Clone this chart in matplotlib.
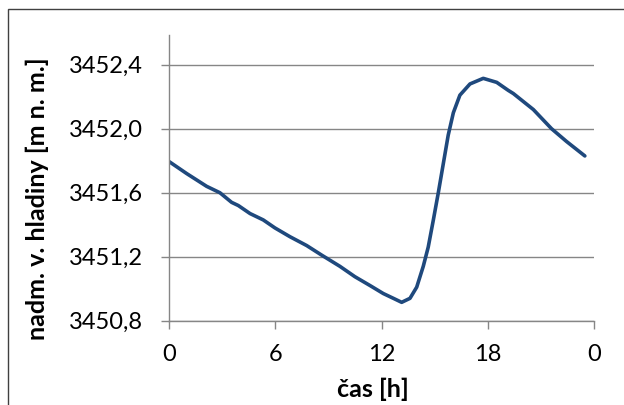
import numpy as np
import matplotlib
matplotlib.use('Agg')
import matplotlib.pyplot as plt
from matplotlib.patches import Rectangle

plt.rcParams['font.family'] = ['Lato', 'DejaVu Sans']

# water level over one day (hours, m a.s.l.)
hours = [0, 0.98, 2.11, 2.86, 3.52, 3.9, 4.56, 5.31, 5.97, 6.82, 7.76, 8.61,
         9.64, 10.49, 11.34, 12.09, 12.66, 13.13, 13.6, 13.98, 14.35, 14.63,
         14.92, 15.2, 15.48, 15.76, 16.05, 16.42, 16.99, 17.74, 18.5, 19.15,
         19.44, 20.57, 21.6, 22.45, 23.48]
level = [3451.794, 3451.72, 3451.64, 3451.60, 3451.54, 3451.52, 3451.47,
         3451.43, 3451.38, 3451.325, 3451.27, 3451.21, 3451.14, 3451.075,
         3451.02, 3450.97, 3450.94, 3450.915, 3450.94, 3451.01, 3451.14,
         3451.26, 3451.43, 3451.60, 3451.78, 3451.96, 3452.10, 3452.21,
         3452.28, 3452.315, 3452.29, 3452.24, 3452.22, 3452.12, 3452.00,
         3451.92, 3451.83]

xticks = [0, 6, 12, 18, 24]
xticklabels = ['0', '6', '12', '18', '0']
yticks = [3450.8, 3451.2, 3451.6, 3452.0, 3452.4]
yticklabels = ['3450,8', '3451,2', '3451,6', '3452,0', '3452,4']

grey = '#868686'

fig = plt.figure(figsize=(6.24, 4.05), dpi=100)
fig.patches.append(Rectangle((8 / 624, -0.1), 1.2, 1.1 - 9 / 405,
                             transform=fig.transFigure, fill=False,
                             edgecolor='#404040', linewidth=1.0))
ax = fig.add_axes([0.2713, 0.2081, 0.952 - 0.2713, 0.9136 - 0.2081])

ax.plot(hours, level, color='#1F497D', linewidth=2.6,
        solid_capstyle='round', solid_joinstyle='round')

ax.set_xlim(0, 24)
ax.set_ylim(3450.8, 3452.586)
ax.set_xticks(xticks)
ax.set_xticklabels(xticklabels)
ax.set_yticks(yticks)
ax.set_yticklabels(yticklabels)

ax.grid(axis='y', color=grey, linewidth=1.0)
ax.set_axisbelow(True)
for s in ['top', 'right']:
    ax.spines[s].set_visible(False)
for s in ['left', 'bottom']:
    ax.spines[s].set_color(grey)
    ax.spines[s].set_linewidth(1.0)

ax.tick_params(axis='both', direction='out', length=6, width=1.0,
               color=grey, labelsize=17, labelcolor='black')
ax.tick_params(axis='x', pad=11)
ax.tick_params(axis='y', pad=13)

ax.set_xlabel('čas [h]', fontsize=18, fontweight='bold', va='center')
ax.xaxis.set_label_coords(0.48, -0.239)
ax.set_ylabel('nadm. v. hladiny [m n. m.]', fontsize=18, fontweight='bold',
              va='center')
ax.yaxis.set_label_coords(-0.311, 0.426)

fig.savefig('out.png', dpi=100)
